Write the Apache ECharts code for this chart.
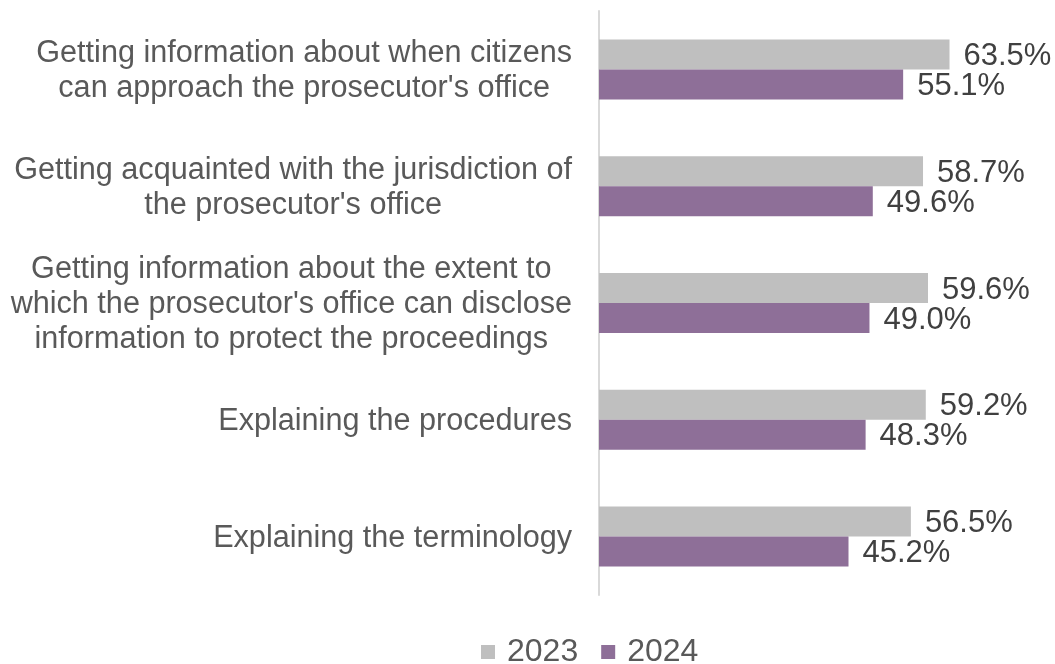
<!DOCTYPE html>
<html>
<head>
<meta charset="utf-8">
<script src="https://cdn.jsdelivr.net/npm/echarts@6/dist/echarts.min.js"></script>
<style>
  html, body { margin: 0; padding: 0; background: #ffffff; }
  #chart { width: 1055px; height: 664px; }
</style>
</head>
<body>
<div id="chart"></div>
<script>
// Survey items (top to bottom) and share of respondents per year, in percent
const categories = [
  "Getting information about when citizens\ncan approach the prosecutor's office",
  "Getting acquainted with the jurisdiction of\nthe prosecutor's office",
  "Getting information about the extent to\nwhich the prosecutor's office can disclose\ninformation to protect the proceedings",
  "Explaining the procedures",
  "Explaining the terminology"
];
const seriesNames = ["2023", "2024"];
const values2023 = [63.5, 58.7, 59.6, 59.2, 56.5];
const values2024 = [55.1, 49.6, 49.0, 48.3, 45.2];

const FONT = "'Liberation Sans', Arial, sans-serif";

const chart = echarts.init(document.getElementById('chart'), null, { renderer: 'canvas' });

function barSeries(name, data, color) {
  return {
    name: name,
    type: 'bar',
    data: data,
    barWidth: 30,
    barGap: '0%',
    itemStyle: { color: color },
    label: {
      show: true,
      position: 'right',
      distance: 14,
      offset: [0, 2],
      formatter: p => p.value.toFixed(1) + '%',
      fontFamily: FONT,
      fontSize: 31,
      color: '#404040'
    },
    emphasis: { disabled: true }
  };
}

chart.setOption({
  animation: false,
  backgroundColor: '#ffffff',
  grid: { left: 599, top: 11, width: 441.6, height: 584, containLabel: false },
  legend: {
    data: seriesNames,
    left: 481,
    top: 636,
    padding: 0,
    itemWidth: 14,
    itemHeight: 14,
    itemGap: 23,
    icon: 'rect',
    textStyle: { fontFamily: FONT, fontSize: 32, color: '#595959', padding: [0, 0, 0, 7] }
  },
  xAxis: {
    type: 'value',
    min: 0,
    max: 80,
    show: false
  },
  yAxis: {
    type: 'category',
    data: categories,
    inverse: true,
    axisLine: { show: true, lineStyle: { color: '#D9D9D9', width: 2 } },
    axisTick: { show: false },
    splitLine: { show: false },
    axisLabel: {
      margin: 27,
      padding: [4, 0, 0, 0],
      formatter: v => v.split('\n').map(s => '{c|' + s + '}').join('\n'),
      rich: {
        c: {
          align: 'center',
          fontFamily: FONT,
          fontSize: 30.6,
          lineHeight: 35,
          color: '#595959'
        }
      }
    }
  },
  series: [
    barSeries(seriesNames[0], values2023, '#BFBFBF'),
    barSeries(seriesNames[1], values2024, '#8E6F98')
  ]
});
</script>
</body>
</html>
